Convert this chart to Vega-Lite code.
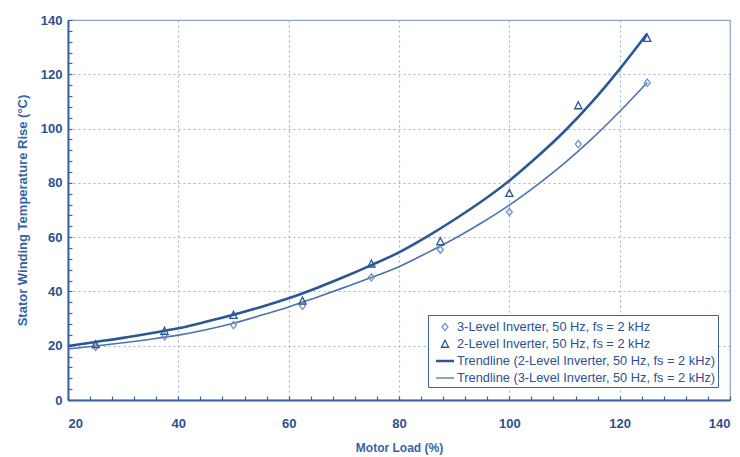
{
  "$schema": "https://vega.github.io/schema/vega-lite/v6.json",
  "width": 662,
  "height": 380,
  "autosize": {"type": "none"},
  "padding": {"left": 68, "top": 20, "right": 10, "bottom": 57},
  "background": "white",
  "config": {
    "view": {"stroke": "#8aa3cc", "strokeWidth": 1.2},
    "font": "Liberation Sans",
    "axis": {
      "labelFont": "Liberation Sans",
      "labelFontSize": 13,
      "labelFontWeight": "bold",
      "labelColor": "#2b5190",
      "titleFont": "Liberation Sans",
      "titleFontSize": 12,
      "titleFontWeight": "bold",
      "titleColor": "#3564a8",
      "domainColor": "#3a62a3",
      "domainWidth": 2,
      "tickColor": "#3a62a3",
      "tickWidth": 1.2,
      "tickSize": -4,
      "gridColor": "#9db2d6",
      "gridDash": [2, 3],
      "gridWidth": 1.2,
      "labelOverlap": false
    }
  },
  "data": {
    "values": [
      {"load": 25, "temp": 19.6, "series": "3-Level Inverter, 50 Hz, fs = 2 kHz", "kind": "point"},
      {"load": 37.5, "temp": 23.4, "series": "3-Level Inverter, 50 Hz, fs = 2 kHz", "kind": "point"},
      {"load": 50, "temp": 27.6, "series": "3-Level Inverter, 50 Hz, fs = 2 kHz", "kind": "point"},
      {"load": 62.5, "temp": 34.7, "series": "3-Level Inverter, 50 Hz, fs = 2 kHz", "kind": "point"},
      {"load": 75, "temp": 45.2, "series": "3-Level Inverter, 50 Hz, fs = 2 kHz", "kind": "point"},
      {"load": 87.5, "temp": 55.4, "series": "3-Level Inverter, 50 Hz, fs = 2 kHz", "kind": "point"},
      {"load": 100, "temp": 69.3, "series": "3-Level Inverter, 50 Hz, fs = 2 kHz", "kind": "point"},
      {"load": 112.5, "temp": 94.3, "series": "3-Level Inverter, 50 Hz, fs = 2 kHz", "kind": "point"},
      {"load": 125, "temp": 116.9, "series": "3-Level Inverter, 50 Hz, fs = 2 kHz", "kind": "point"},
      {"load": 25, "temp": 20.5, "series": "2-Level Inverter, 50 Hz, fs = 2 kHz", "kind": "point"},
      {"load": 37.5, "temp": 25.4, "series": "2-Level Inverter, 50 Hz, fs = 2 kHz", "kind": "point"},
      {"load": 50, "temp": 31.3, "series": "2-Level Inverter, 50 Hz, fs = 2 kHz", "kind": "point"},
      {"load": 62.5, "temp": 36.5, "series": "2-Level Inverter, 50 Hz, fs = 2 kHz", "kind": "point"},
      {"load": 75, "temp": 50.2, "series": "2-Level Inverter, 50 Hz, fs = 2 kHz", "kind": "point"},
      {"load": 87.5, "temp": 58.4, "series": "2-Level Inverter, 50 Hz, fs = 2 kHz", "kind": "point"},
      {"load": 100, "temp": 76.2, "series": "2-Level Inverter, 50 Hz, fs = 2 kHz", "kind": "point"},
      {"load": 112.5, "temp": 108.5, "series": "2-Level Inverter, 50 Hz, fs = 2 kHz", "kind": "point"},
      {"load": 125, "temp": 133.3, "series": "2-Level Inverter, 50 Hz, fs = 2 kHz", "kind": "point"},
      {"load": 20, "temp": 19.9, "series": "Trend2", "kind": "trend"},
      {"load": 25, "temp": 21.4, "series": "Trend2", "kind": "trend"},
      {"load": 30, "temp": 22.9, "series": "Trend2", "kind": "trend"},
      {"load": 35, "temp": 24.6, "series": "Trend2", "kind": "trend"},
      {"load": 40, "temp": 26.4, "series": "Trend2", "kind": "trend"},
      {"load": 45, "temp": 28.8, "series": "Trend2", "kind": "trend"},
      {"load": 50, "temp": 31.4, "series": "Trend2", "kind": "trend"},
      {"load": 55, "temp": 34.3, "series": "Trend2", "kind": "trend"},
      {"load": 60, "temp": 37.5, "series": "Trend2", "kind": "trend"},
      {"load": 65, "temp": 41.2, "series": "Trend2", "kind": "trend"},
      {"load": 70, "temp": 45.3, "series": "Trend2", "kind": "trend"},
      {"load": 75, "temp": 49.7, "series": "Trend2", "kind": "trend"},
      {"load": 80, "temp": 54.4, "series": "Trend2", "kind": "trend"},
      {"load": 85, "temp": 60.1, "series": "Trend2", "kind": "trend"},
      {"load": 90, "temp": 66.4, "series": "Trend2", "kind": "trend"},
      {"load": 95, "temp": 73.2, "series": "Trend2", "kind": "trend"},
      {"load": 100, "temp": 80.8, "series": "Trend2", "kind": "trend"},
      {"load": 105, "temp": 89.5, "series": "Trend2", "kind": "trend"},
      {"load": 110, "temp": 99.0, "series": "Trend2", "kind": "trend"},
      {"load": 115, "temp": 109.8, "series": "Trend2", "kind": "trend"},
      {"load": 120, "temp": 121.9, "series": "Trend2", "kind": "trend"},
      {"load": 125, "temp": 135.0, "series": "Trend2", "kind": "trend"},
      {"load": 20, "temp": 18.8, "series": "Trend3", "kind": "trend"},
      {"load": 25, "temp": 19.9, "series": "Trend3", "kind": "trend"},
      {"load": 30, "temp": 21.1, "series": "Trend3", "kind": "trend"},
      {"load": 35, "temp": 22.4, "series": "Trend3", "kind": "trend"},
      {"load": 40, "temp": 23.9, "series": "Trend3", "kind": "trend"},
      {"load": 45, "temp": 25.9, "series": "Trend3", "kind": "trend"},
      {"load": 50, "temp": 28.3, "series": "Trend3", "kind": "trend"},
      {"load": 55, "temp": 31.2, "series": "Trend3", "kind": "trend"},
      {"load": 60, "temp": 34.3, "series": "Trend3", "kind": "trend"},
      {"load": 65, "temp": 37.8, "series": "Trend3", "kind": "trend"},
      {"load": 70, "temp": 41.4, "series": "Trend3", "kind": "trend"},
      {"load": 75, "temp": 45.1, "series": "Trend3", "kind": "trend"},
      {"load": 80, "temp": 49.1, "series": "Trend3", "kind": "trend"},
      {"load": 85, "temp": 54.1, "series": "Trend3", "kind": "trend"},
      {"load": 90, "temp": 59.4, "series": "Trend3", "kind": "trend"},
      {"load": 95, "temp": 65.3, "series": "Trend3", "kind": "trend"},
      {"load": 100, "temp": 71.8, "series": "Trend3", "kind": "trend"},
      {"load": 105, "temp": 79.2, "series": "Trend3", "kind": "trend"},
      {"load": 110, "temp": 87.3, "series": "Trend3", "kind": "trend"},
      {"load": 115, "temp": 96.3, "series": "Trend3", "kind": "trend"},
      {"load": 120, "temp": 106.3, "series": "Trend3", "kind": "trend"},
      {"load": 125, "temp": 117.0, "series": "Trend3", "kind": "trend"}
    ]
  },
  "encoding": {
    "x": {
      "field": "load",
      "type": "quantitative",
      "scale": {"domain": [20, 140], "nice": false, "zero": false},
      "axis": {
        "title": "Motor Load (%)",
        "values": [20,24,28,32,36,40,44,48,52,56,60,64,68,72,76,80,84,88,92,96,100,104,108,112,116,120,124,128,132,136,140],
        "labelExpr": "datum.value % 20 == 0 ? datum.label : ''",
        "labelPadding": 21,
        "titlePadding": 12,
        "gridOpacity": {"condition": {"test": "datum.value % 20 == 0 && datum.value > 20 && datum.value < 140", "value": 1}, "value": 0}
      }
    },
    "y": {
      "field": "temp",
      "type": "quantitative",
      "scale": {"domain": [0, 140], "nice": false},
      "axis": {
        "title": "Stator Winding Temperature Rise (°C)",
        "titleFontSize": 13,
        "values": [0,4,8,12,16,20,24,28,32,36,40,44,48,52,56,60,64,68,72,76,80,84,88,92,96,100,104,108,112,116,120,124,128,132,136,140],
        "labelExpr": "datum.value % 20 == 0 ? datum.label : ''",
        "labelPadding": 10,
        "titlePadding": 11,
        "gridOpacity": {"condition": {"test": "datum.value % 20 == 0 && datum.value > 0 && datum.value < 140", "value": 1}, "value": 0}
      }
    }
  },
  "layer": [
    {
      "transform": [{"filter": "datum.series == 'Trend3'"}],
      "mark": {"type": "line", "color": "#4a74ae", "strokeWidth": 1.6, "interpolate": "monotone"},
      "encoding": {}
    },
    {
      "transform": [{"filter": "datum.series == 'Trend2'"}],
      "mark": {"type": "line", "color": "#2a5896", "strokeWidth": 2.6, "interpolate": "monotone"},
      "encoding": {}
    },
    {
      "transform": [{"filter": "datum.kind == 'point'"}],
      "mark": {"type": "point", "filled": false, "strokeWidth": 1.3, "opacity": 1},
      "encoding": {
        "color": {
          "field": "series",
          "type": "nominal",
          "scale": {
            "domain": ["3-Level Inverter, 50 Hz, fs = 2 kHz", "2-Level Inverter, 50 Hz, fs = 2 kHz", "Trendline (2-Level Inverter, 50 Hz, fs = 2 kHz)", "Trendline (3-Level Inverter, 50 Hz, fs = 2 kHz)"],
            "range": ["#7190c2", "#2a5896", "#2a5896", "#4a74ae"]
          },
          "legend": {
            "title": null,
            "orient": "none",
            "legendX": 360,
            "legendY": 295,
            "strokeColor": "#3a62a3",
            "fillColor": "white",
            "padding": 2,
            "symbolOffset": 5,
            "labelFont": "Liberation Sans",
            "labelFontSize": 12.8,
            "labelColor": "#2b5190",
            "labelLimit": 400,
            "symbolSize": 324,
            "symbolStrokeWidth": 1.3,
            "rowPadding": 0,
            "labelOffset": 2,
            "encode": {
              "legend": {"update": {"strokeWidth": {"value": 1.5}}}
            }
          }
        },
        "shape": {
          "field": "series",
          "type": "nominal",
          "scale": {
            "domain": ["3-Level Inverter, 50 Hz, fs = 2 kHz", "2-Level Inverter, 50 Hz, fs = 2 kHz", "Trendline (2-Level Inverter, 50 Hz, fs = 2 kHz)", "Trendline (3-Level Inverter, 50 Hz, fs = 2 kHz)"],
            "range": ["M0,-0.4L0.33,0L0,0.4L-0.33,0Z", "M0,-0.42L0.4,0.36L-0.4,0.36Z", "M-1,-0.06L1,-0.06M-1,0.06L1,0.06", "M-1,0L1,0"]
          }
        },
        "size": {"value": 324}
      }
    }
  ]
}
